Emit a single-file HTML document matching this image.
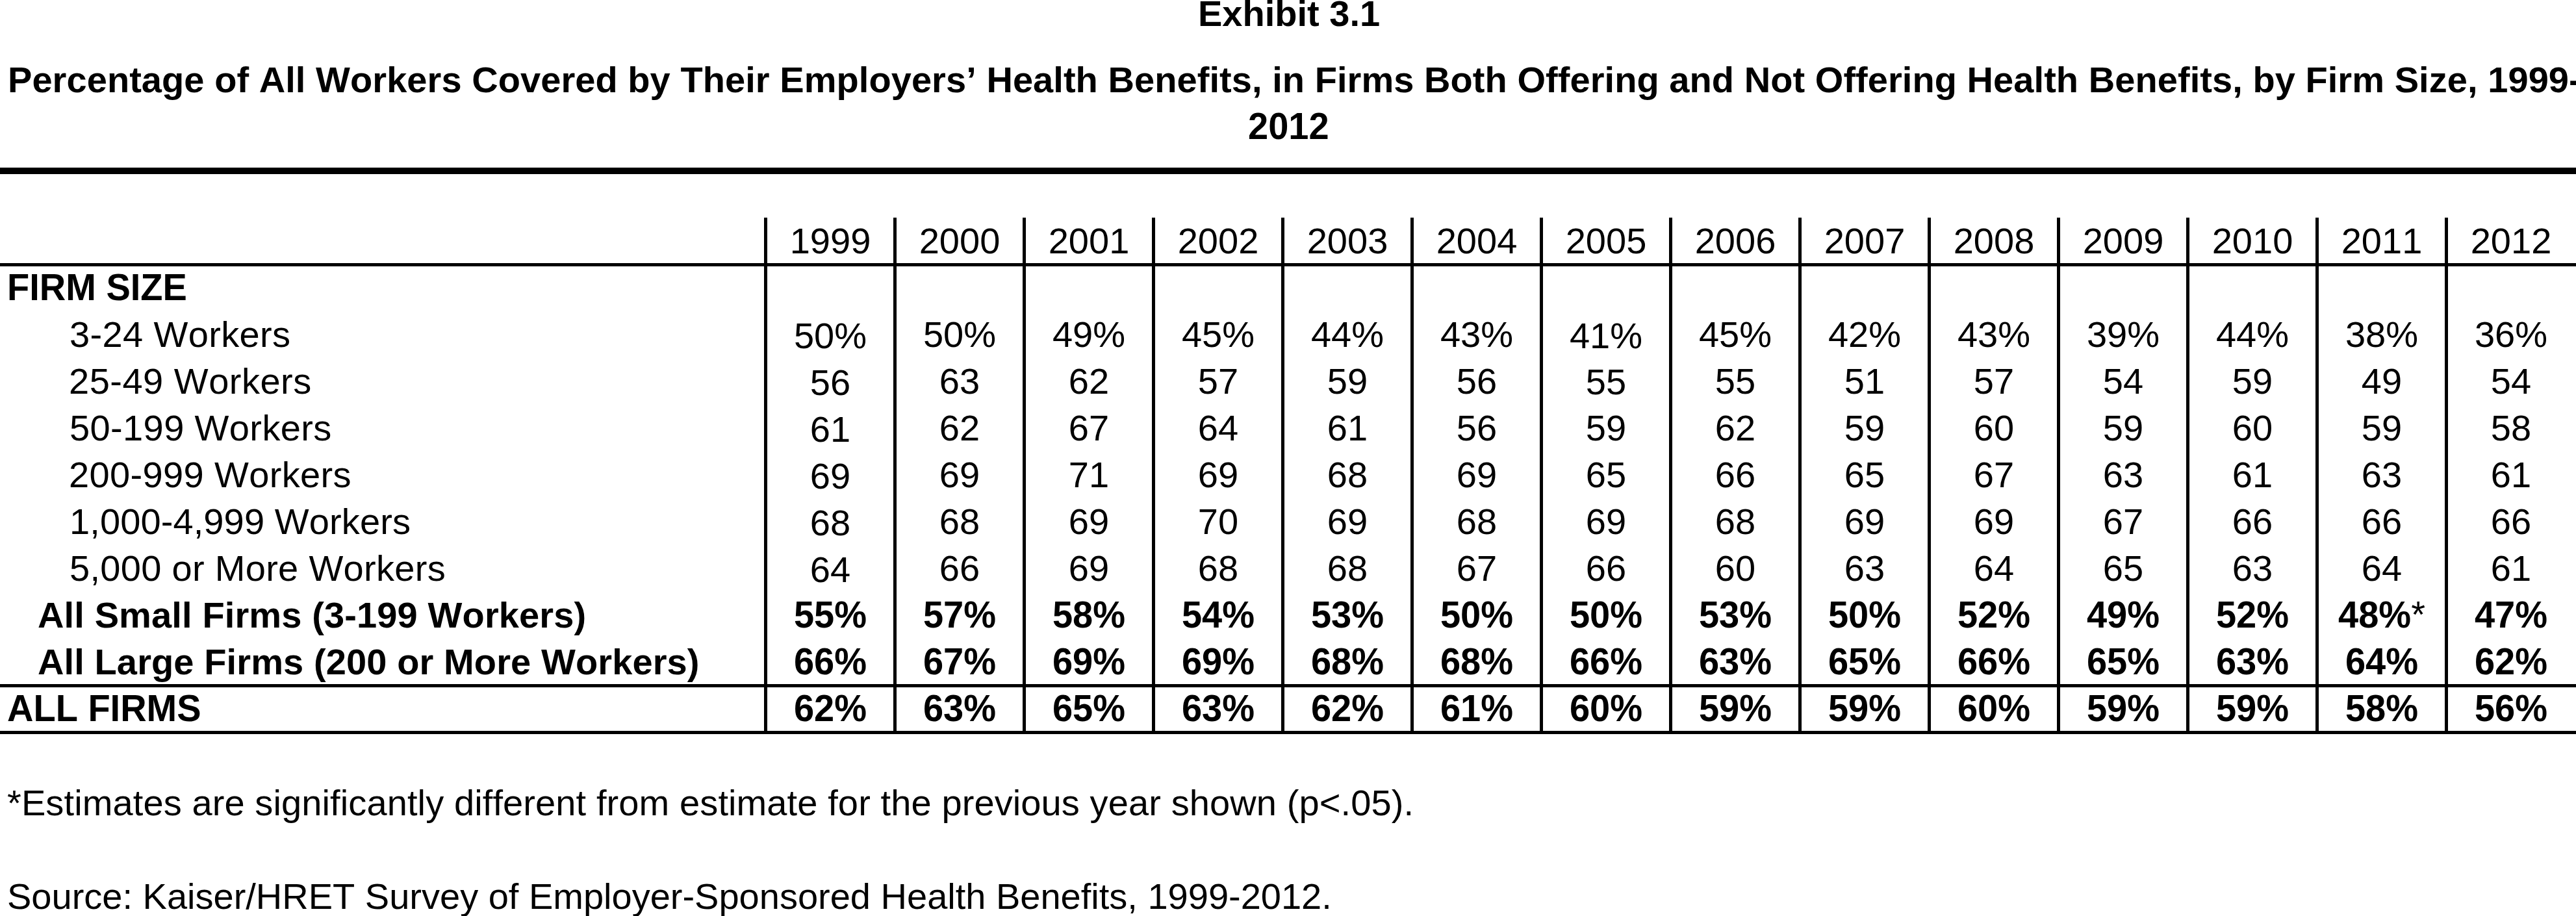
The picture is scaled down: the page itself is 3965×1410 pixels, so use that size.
<!DOCTYPE html>
<html><head><meta charset="utf-8"><title>Exhibit 3.1</title>
<style>
html,body{margin:0;padding:0;background:#fff;}
body{width:3965px;height:1410px;position:relative;overflow:hidden;}
.t,.c{position:absolute;font-family:"Liberation Sans",Arial,sans-serif;font-size:56px;line-height:56px;white-space:nowrap;color:#000;font-kerning:none;}
.c{width:194px;text-align:center;transform-origin:0 47px;}
.c.r{}
.c.b{transform:scaleY(1.02);}
.sy{transform-origin:0 47px;transform:scaleY(1.02);}
.b{font-weight:bold;}
.r{font-weight:normal;}
.ln{position:absolute;background:#000;}
</style></head><body>
<div class="t b" style="left:1844px;top:-7px">Exhibit 3.1</div>
<div class="t b" style="left:12px;top:95px;letter-spacing:0.06px">Percentage of All Workers Covered by Their Employers’ Health Benefits, in Firms Both Offering and Not Offering Health Benefits, by Firm Size, 1999-</div>
<div class="t b" style="left:1921px;top:167px;transform-origin:0 47px;transform:scaleY(1.02)">2012</div>
<div class="ln" style="left:0px;top:258px;width:3965px;height:10px"></div>
<div class="ln" style="left:0px;top:405px;width:3965px;height:5px"></div>
<div class="ln" style="left:0px;top:1053px;width:3965px;height:5px"></div>
<div class="ln" style="left:0px;top:1125px;width:3965px;height:5px"></div>
<div class="ln" style="left:1176px;top:335px;width:5px;height:795px"></div>
<div class="ln" style="left:1375px;top:335px;width:5px;height:795px"></div>
<div class="ln" style="left:1574px;top:335px;width:5px;height:795px"></div>
<div class="ln" style="left:1773px;top:335px;width:5px;height:795px"></div>
<div class="ln" style="left:1972px;top:335px;width:5px;height:795px"></div>
<div class="ln" style="left:2171px;top:335px;width:5px;height:795px"></div>
<div class="ln" style="left:2370px;top:335px;width:5px;height:795px"></div>
<div class="ln" style="left:2569px;top:335px;width:5px;height:795px"></div>
<div class="ln" style="left:2768px;top:335px;width:5px;height:795px"></div>
<div class="ln" style="left:2967px;top:335px;width:5px;height:795px"></div>
<div class="ln" style="left:3166px;top:335px;width:5px;height:795px"></div>
<div class="ln" style="left:3365px;top:335px;width:5px;height:795px"></div>
<div class="ln" style="left:3564px;top:335px;width:5px;height:795px"></div>
<div class="ln" style="left:3763px;top:335px;width:5px;height:795px"></div>
<div class="c r" style="left:1181px;top:343px">1999</div>
<div class="c r" style="left:1380px;top:343px">2000</div>
<div class="c r" style="left:1579px;top:343px">2001</div>
<div class="c r" style="left:1778px;top:343px">2002</div>
<div class="c r" style="left:1977px;top:343px">2003</div>
<div class="c r" style="left:2176px;top:343px">2004</div>
<div class="c r" style="left:2375px;top:343px">2005</div>
<div class="c r" style="left:2574px;top:343px">2006</div>
<div class="c r" style="left:2773px;top:343px">2007</div>
<div class="c r" style="left:2972px;top:343px">2008</div>
<div class="c r" style="left:3171px;top:343px">2009</div>
<div class="c r" style="left:3370px;top:343px">2010</div>
<div class="c r" style="left:3569px;top:343px">2011</div>
<div class="c r" style="left:3768px;top:343px">2012</div>
<div class="t b" style="left:11px;top:415px;transform-origin:0 47px;transform:scaleY(1.02)">FIRM SIZE</div>
<div class="t r" style="left:107px;top:487px;letter-spacing:0.36px">3-24 Workers</div>
<div class="c r" style="left:1181px;top:489px">50%</div>
<div class="c r" style="left:1380px;top:487px">50%</div>
<div class="c r" style="left:1579px;top:487px">49%</div>
<div class="c r" style="left:1778px;top:487px">45%</div>
<div class="c r" style="left:1977px;top:487px">44%</div>
<div class="c r" style="left:2176px;top:487px">43%</div>
<div class="c r" style="left:2375px;top:489px">41%</div>
<div class="c r" style="left:2574px;top:487px">45%</div>
<div class="c r" style="left:2773px;top:487px">42%</div>
<div class="c r" style="left:2972px;top:487px">43%</div>
<div class="c r" style="left:3171px;top:487px">39%</div>
<div class="c r" style="left:3370px;top:487px">44%</div>
<div class="c r" style="left:3569px;top:487px">38%</div>
<div class="c r" style="left:3768px;top:487px">36%</div>
<div class="t r" style="left:106px;top:559px;letter-spacing:0.5px">25-49 Workers</div>
<div class="c r" style="left:1181px;top:561px">56</div>
<div class="c r" style="left:1380px;top:559px">63</div>
<div class="c r" style="left:1579px;top:559px">62</div>
<div class="c r" style="left:1778px;top:559px">57</div>
<div class="c r" style="left:1977px;top:559px">59</div>
<div class="c r" style="left:2176px;top:559px">56</div>
<div class="c r" style="left:2375px;top:560px">55</div>
<div class="c r" style="left:2574px;top:559px">55</div>
<div class="c r" style="left:2773px;top:559px">51</div>
<div class="c r" style="left:2972px;top:559px">57</div>
<div class="c r" style="left:3171px;top:559px">54</div>
<div class="c r" style="left:3370px;top:559px">59</div>
<div class="c r" style="left:3569px;top:559px">49</div>
<div class="c r" style="left:3768px;top:559px">54</div>
<div class="t r" style="left:107px;top:631px;letter-spacing:0.38px">50-199 Workers</div>
<div class="c r" style="left:1181px;top:633px">61</div>
<div class="c r" style="left:1380px;top:631px">62</div>
<div class="c r" style="left:1579px;top:631px">67</div>
<div class="c r" style="left:1778px;top:631px">64</div>
<div class="c r" style="left:1977px;top:631px">61</div>
<div class="c r" style="left:2176px;top:631px">56</div>
<div class="c r" style="left:2375px;top:631px">59</div>
<div class="c r" style="left:2574px;top:631px">62</div>
<div class="c r" style="left:2773px;top:631px">59</div>
<div class="c r" style="left:2972px;top:631px">60</div>
<div class="c r" style="left:3171px;top:631px">59</div>
<div class="c r" style="left:3370px;top:631px">60</div>
<div class="c r" style="left:3569px;top:631px">59</div>
<div class="c r" style="left:3768px;top:631px">58</div>
<div class="t r" style="left:106px;top:703px;letter-spacing:0.36px">200-999 Workers</div>
<div class="c r" style="left:1181px;top:705px">69</div>
<div class="c r" style="left:1380px;top:703px">69</div>
<div class="c r" style="left:1579px;top:703px">71</div>
<div class="c r" style="left:1778px;top:703px">69</div>
<div class="c r" style="left:1977px;top:703px">68</div>
<div class="c r" style="left:2176px;top:703px">69</div>
<div class="c r" style="left:2375px;top:703px">65</div>
<div class="c r" style="left:2574px;top:703px">66</div>
<div class="c r" style="left:2773px;top:703px">65</div>
<div class="c r" style="left:2972px;top:703px">67</div>
<div class="c r" style="left:3171px;top:703px">63</div>
<div class="c r" style="left:3370px;top:703px">61</div>
<div class="c r" style="left:3569px;top:703px">63</div>
<div class="c r" style="left:3768px;top:703px">61</div>
<div class="t r" style="left:107px;top:775px;letter-spacing:0.11px">1,000-4,999 Workers</div>
<div class="c r" style="left:1181px;top:777px">68</div>
<div class="c r" style="left:1380px;top:775px">68</div>
<div class="c r" style="left:1579px;top:775px">69</div>
<div class="c r" style="left:1778px;top:775px">70</div>
<div class="c r" style="left:1977px;top:775px">69</div>
<div class="c r" style="left:2176px;top:775px">68</div>
<div class="c r" style="left:2375px;top:775px">69</div>
<div class="c r" style="left:2574px;top:775px">68</div>
<div class="c r" style="left:2773px;top:775px">69</div>
<div class="c r" style="left:2972px;top:775px">69</div>
<div class="c r" style="left:3171px;top:775px">67</div>
<div class="c r" style="left:3370px;top:775px">66</div>
<div class="c r" style="left:3569px;top:775px">66</div>
<div class="c r" style="left:3768px;top:775px">66</div>
<div class="t r" style="left:107px;top:847px;letter-spacing:0.3px">5,000 or More Workers</div>
<div class="c r" style="left:1181px;top:849px">64</div>
<div class="c r" style="left:1380px;top:847px">66</div>
<div class="c r" style="left:1579px;top:847px">69</div>
<div class="c r" style="left:1778px;top:847px">68</div>
<div class="c r" style="left:1977px;top:847px">68</div>
<div class="c r" style="left:2176px;top:847px">67</div>
<div class="c r" style="left:2375px;top:847px">66</div>
<div class="c r" style="left:2574px;top:847px">60</div>
<div class="c r" style="left:2773px;top:847px">63</div>
<div class="c r" style="left:2972px;top:847px">64</div>
<div class="c r" style="left:3171px;top:847px">65</div>
<div class="c r" style="left:3370px;top:847px">63</div>
<div class="c r" style="left:3569px;top:847px">64</div>
<div class="c r" style="left:3768px;top:847px">61</div>
<div class="t b" style="left:58px;top:919px;letter-spacing:0.13px">All Small Firms (3-199 Workers)</div>
<div class="c b" style="left:1181px;top:919px">55%</div>
<div class="c b" style="left:1380px;top:919px">57%</div>
<div class="c b" style="left:1579px;top:919px">58%</div>
<div class="c b" style="left:1778px;top:919px">54%</div>
<div class="c b" style="left:1977px;top:919px">53%</div>
<div class="c b" style="left:2176px;top:919px">50%</div>
<div class="c b" style="left:2375px;top:919px">50%</div>
<div class="c b" style="left:2574px;top:919px">53%</div>
<div class="c b" style="left:2773px;top:919px">50%</div>
<div class="c b" style="left:2972px;top:919px">52%</div>
<div class="c b" style="left:3171px;top:919px">49%</div>
<div class="c b" style="left:3370px;top:919px">52%</div>
<div class="c b" style="left:3569px;top:919px">48%<span class="r">*</span></div>
<div class="c b" style="left:3768px;top:919px">47%</div>
<div class="t b" style="left:58px;top:991px;letter-spacing:0.11px">All Large Firms (200 or More Workers)</div>
<div class="c b" style="left:1181px;top:991px">66%</div>
<div class="c b" style="left:1380px;top:991px">67%</div>
<div class="c b" style="left:1579px;top:991px">69%</div>
<div class="c b" style="left:1778px;top:991px">69%</div>
<div class="c b" style="left:1977px;top:991px">68%</div>
<div class="c b" style="left:2176px;top:991px">68%</div>
<div class="c b" style="left:2375px;top:991px">66%</div>
<div class="c b" style="left:2574px;top:991px">63%</div>
<div class="c b" style="left:2773px;top:991px">65%</div>
<div class="c b" style="left:2972px;top:991px">66%</div>
<div class="c b" style="left:3171px;top:991px">65%</div>
<div class="c b" style="left:3370px;top:991px">63%</div>
<div class="c b" style="left:3569px;top:991px">64%</div>
<div class="c b" style="left:3768px;top:991px">62%</div>
<div class="t b" style="left:11px;top:1063px;transform-origin:0 47px;transform:scaleY(1.02)">ALL FIRMS</div>
<div class="c b" style="left:1181px;top:1063px">62%</div>
<div class="c b" style="left:1380px;top:1063px">63%</div>
<div class="c b" style="left:1579px;top:1063px">65%</div>
<div class="c b" style="left:1778px;top:1063px">63%</div>
<div class="c b" style="left:1977px;top:1063px">62%</div>
<div class="c b" style="left:2176px;top:1063px">61%</div>
<div class="c b" style="left:2375px;top:1063px">60%</div>
<div class="c b" style="left:2574px;top:1063px">59%</div>
<div class="c b" style="left:2773px;top:1063px">59%</div>
<div class="c b" style="left:2972px;top:1063px">60%</div>
<div class="c b" style="left:3171px;top:1063px">59%</div>
<div class="c b" style="left:3370px;top:1063px">59%</div>
<div class="c b" style="left:3569px;top:1063px">58%</div>
<div class="c b" style="left:3768px;top:1063px">56%</div>
<div class="t r" style="left:11px;top:1208px;letter-spacing:0.11px">*Estimates are significantly different from estimate for the previous year shown (p&lt;.05).</div>
<div class="t r" style="left:11px;top:1352px">Source: Kaiser/HRET Survey of Employer-Sponsored Health Benefits, 1999-2012.</div>
</body></html>
